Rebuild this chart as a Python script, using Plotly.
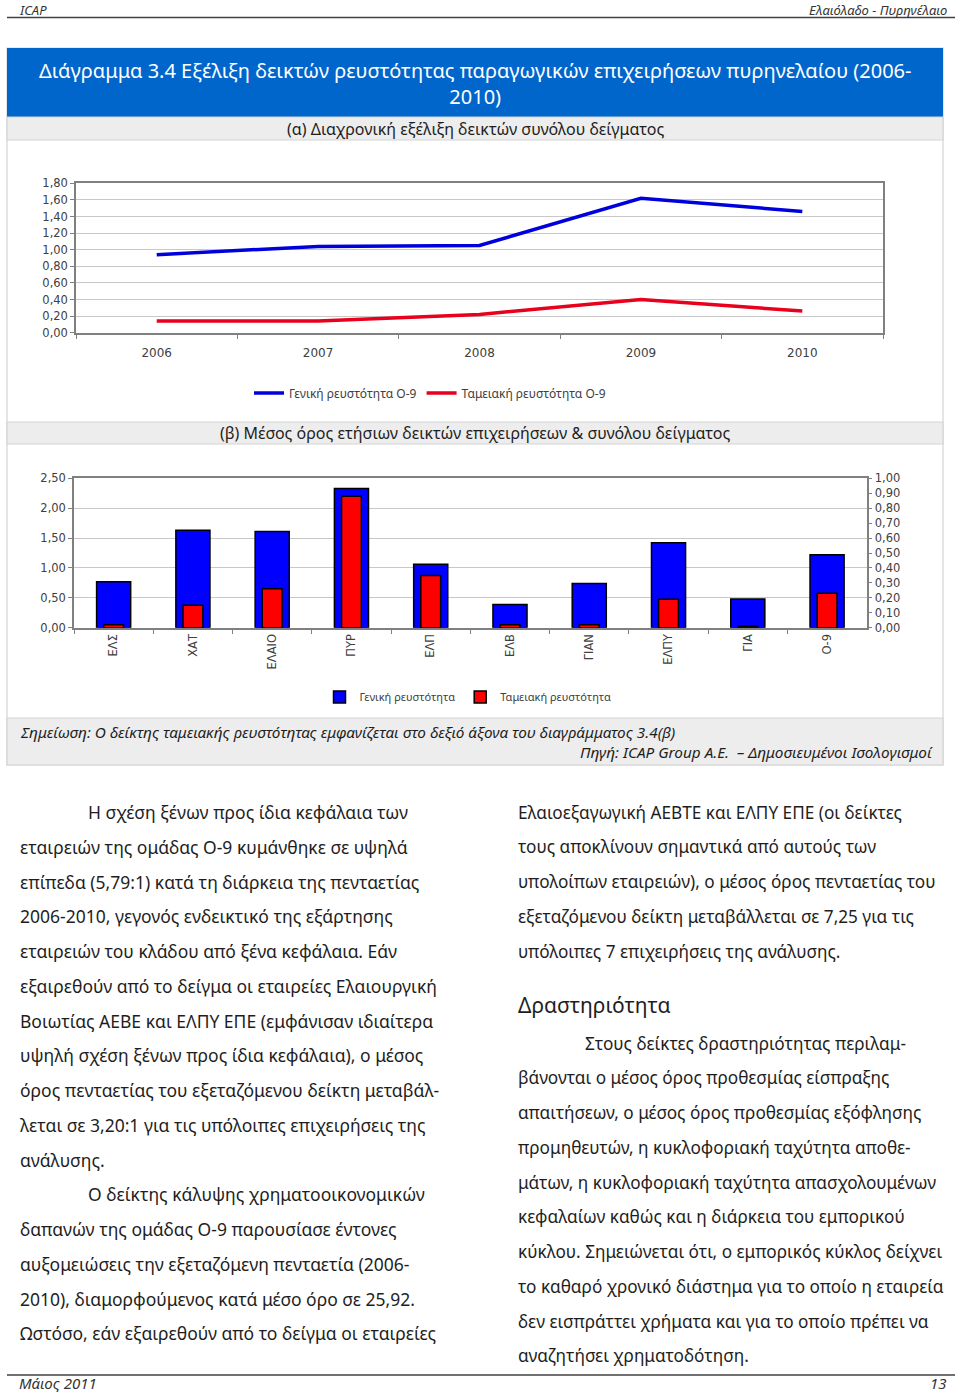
import plotly.graph_objects as go

W, H = 960, 1394


def px(x):
    return x / W


def py(y):
    return 1 - y / H


# ---------------- data ----------------
years = ["2006", "2007", "2008", "2009", "2010"]
general_o9 = [0.94, 1.04, 1.05, 1.62, 1.46]
cash_o9 = [0.14, 0.14, 0.22, 0.40, 0.26]

companies = ["ΕΛΣ", "ΧΑΤ", "ΕΛΑΙΟ", "ΠΥΡ", "ΕΛΠ", "ΕΛΒ", "ΓΙΑΝ", "ΕΛΠΥ", "ΓΙΑ", "Ο-9"]
general_avg = [0.77, 1.63, 1.61, 2.33, 1.06, 0.39, 0.74, 1.42, 0.48, 1.22]
cash_avg = [0.02, 0.15, 0.26, 0.88, 0.35, 0.02, 0.02, 0.19, 0.01, 0.23]

left_col = [
    "Η σχέση ξένων προς ίδια κεφάλαια των",
    "εταιρειών της ομάδας Ο-9 κυμάνθηκε σε υψηλά",
    "επίπεδα (5,79:1) κατά τη διάρκεια της πενταετίας",
    "2006-2010, γεγονός ενδεικτικό της εξάρτησης",
    "εταιρειών του κλάδου από ξένα κεφάλαια. Εάν",
    "εξαιρεθούν από το δείγμα οι εταιρείες Ελαιουργική",
    "Βοιωτίας ΑΕΒΕ και ΕΛΠΥ ΕΠΕ (εμφάνισαν ιδιαίτερα",
    "υψηλή σχέση ξένων προς ίδια κεφάλαια), ο μέσος",
    "όρος πενταετίας του εξεταζόμενου δείκτη μεταβάλ-",
    "λεται σε 3,20:1 για τις υπόλοιπες επιχειρήσεις της",
    "ανάλυσης.",
    "Ο δείκτης κάλυψης χρηματοοικονομικών",
    "δαπανών της ομάδας Ο-9 παρουσίασε έντονες",
    "αυξομειώσεις την εξεταζόμενη πενταετία (2006-",
    "2010), διαμορφούμενος κατά μέσο όρο σε 25,92.",
    "Ωστόσο, εάν εξαιρεθούν από το δείγμα οι εταιρείες",
]
left_indent = {0, 11}

right_col_a = [
    "Ελαιοεξαγωγική ΑΕΒΤΕ και ΕΛΠΥ ΕΠΕ (οι δείκτες",
    "τους αποκλίνουν σημαντικά από αυτούς των",
    "υπολοίπων εταιρειών), ο μέσος όρος πενταετίας του",
    "εξεταζόμενου δείκτη μεταβάλλεται σε 7,25 για τις",
    "υπόλοιπες 7 επιχειρήσεις της ανάλυσης.",
]
right_heading = "Δραστηριότητα"
right_col_b = [
    "Στους δείκτες δραστηριότητας περιλαμ-",
    "βάνονται ο μέσος όρος προθεσμίας είσπραξης",
    "απαιτήσεων, ο μέσος όρος προθεσμίας εξόφλησης",
    "προμηθευτών, η κυκλοφοριακή ταχύτητα αποθε-",
    "μάτων, η κυκλοφοριακή ταχύτητα απασχολουμένων",
    "κεφαλαίων καθώς και η διάρκεια του εμπορικού",
    "κύκλου. Σημειώνεται ότι, ο εμπορικός κύκλος δείχνει",
    "το καθαρό χρονικό διάστημα για το οποίο η εταιρεία",
    "δεν εισπράττει χρήματα και για το οποίο πρέπει να",
    "αναζητήσει χρηματοδότηση.",
]

BODY_FONT = "Noto Sans"
TICK_FONT = "DejaVu Sans"
TICK_COLOR = "#404040"
GRID = "#C8C8C8"
AXLINE = "#808080"

fig = go.Figure()

# ---- chart (a): lines ----
fig.add_trace(go.Scatter(
    x=years, y=general_o9, mode="lines", name="Γενική ρευστότητα Ο-9",
    line=dict(color="#0000DD", width=3.5), xaxis="x", yaxis="y", legend="legend"))
fig.add_trace(go.Scatter(
    x=years, y=cash_o9, mode="lines", name="Ταμειακή ρευστότητα Ο-9",
    line=dict(color="#E8001C", width=3.5), xaxis="x", yaxis="y", legend="legend"))

# ---- chart (b): bars ----
fig.add_trace(go.Bar(
    x=companies, y=general_avg, name="Γενική ρευστότητα", width=0.43,
    marker=dict(color="#0000FF", line=dict(color="#000000", width=1.5)),
    xaxis="x2", yaxis="y2", legend="legend2"))
fig.add_trace(go.Bar(
    x=companies, y=cash_avg, name="Ταμειακή ρευστότητα", width=0.25,
    marker=dict(color="#FF0000", line=dict(color="#000000", width=1.5)),
    xaxis="x2", yaxis="y3", legend="legend2"))

tickfont = dict(family=TICK_FONT, size=11.5, color=TICK_COLOR)

shapes = []
# header / footer rules
shapes.append(dict(type="line", xref="paper", yref="paper", x0=px(7), x1=px(955),
                   y0=py(17.5), y1=py(17.5), line=dict(color="#404040", width=1.5)))
shapes.append(dict(type="line", xref="paper", yref="paper", x0=px(7), x1=px(955),
                   y0=py(1375), y1=py(1375), line=dict(color="#404040", width=1.5)))
# outer box
shapes.append(dict(type="rect", xref="paper", yref="paper", x0=px(7), x1=px(943),
                   y0=py(765), y1=py(48), line=dict(color="#D4D4D4", width=1.2),
                   fillcolor="white", layer="below"))
# blue title band
shapes.append(dict(type="rect", xref="paper", yref="paper", x0=px(7), x1=px(943),
                   y0=py(117), y1=py(48), line=dict(width=0), fillcolor="#0066CC",
                   layer="below"))
# gray bands
for (a, b) in [(117, 140), (422, 444), (718, 765)]:
    shapes.append(dict(type="rect", xref="paper", yref="paper", x0=px(7), x1=px(943),
                       y0=py(b), y1=py(a), line=dict(color="#D4D4D4", width=1.2),
                       fillcolor="#EDEDED", layer="below"))

annotations = []


def text(x, y, s, size=17, color="#1E1E1E", xanchor="left", yanchor="middle",
         family=BODY_FONT, italic=False, pad=1):
    if italic:
        s = "<i>" + s + "</i>"
    annotations.append(dict(x=px(x), y=py(y), xref="paper", yref="paper", text=s,
                            showarrow=False, xanchor=xanchor, yanchor=yanchor,
                            borderpad=pad,
                            font=dict(family=family, size=size, color=color)))


# header / footer (kept fully inside the page)
text(18, 0, "ICAP", size=13, color="#333333", yanchor="top", italic=True, pad=0)
text(948, 0, "Ελαιόλαδο - Πυρηνέλαιο", size=13, color="#333333", xanchor="right",
     yanchor="top", italic=True, pad=0)
text(18, 1394, "Μάιος 2011", size=15, color="#333333", yanchor="bottom", italic=True, pad=0)
text(948, 1394, "13", size=15, color="#333333", xanchor="right", yanchor="bottom",
     italic=True, pad=0)

# titles
text(475, 83, "Διάγραμμα 3.4 Εξέλιξη δεικτών ρευστότητας παραγωγικών επιχειρήσεων πυρηνελαίου (2006-<br>2010)",
     size=20, color="white", xanchor="center")
text(475, 129, "(α) Διαχρονική εξέλιξη δεικτών συνόλου δείγματος", size=16,
     xanchor="center")
text(475, 433, "(β) Μέσος όρος ετήσιων δεικτών επιχειρήσεων & συνόλου δείγματος", size=16,
     xanchor="center")
text(18, 732, "Σημείωση: Ο δείκτης ταμειακής ρευστότητας εμφανίζεται στο δεξιό άξονα του διαγράμματος 3.4(β)",
     size=15.3, italic=True)
text(935, 752, "Πηγή: ICAP Group Α.Ε.  – Δημοσιευμένοι Ισολογισμοί", size=15.3,
     xanchor="right", italic=True)

# body text
LINE = 34.75
for i, s in enumerate(left_col):
    x = 86 if i in left_indent else 18
    text(x, 812 + i * LINE, s, size=17.5)
for i, s in enumerate(right_col_a):
    text(516, 812 + i * LINE, s, size=17.2)
text(516, 1005, right_heading, size=21)
for i, s in enumerate(right_col_b):
    x = 583 if i == 0 else 516
    text(x, 1043 + i * LINE, s, size=17.2)

fig.update_layout(
    width=W, height=H,
    margin=dict(l=0, r=0, t=0, b=0, autoexpand=False),
    paper_bgcolor="white",
    plot_bgcolor="rgba(0,0,0,0)",
    separators=",.",
    barmode="overlay",
    shapes=shapes,
    annotations=annotations,
    xaxis=dict(domain=[px(76), px(883)], anchor="y", type="category",
               range=[-0.5, 4.5], showline=True, linecolor=AXLINE, linewidth=1.5,
               mirror=True, ticks="outside", tickson="boundaries", ticklen=5,
               tickcolor=AXLINE, tickfont=dict(family=TICK_FONT, size=12, color=TICK_COLOR),
               ticklabelstandoff=8, showgrid=False, automargin=False),
    yaxis=dict(domain=[py(332.7), py(183.3)], anchor="x", range=[0, 1.8], dtick=0.2,
               tickformat=".2f", showgrid=True, gridcolor=GRID, showline=True,
               linecolor=AXLINE, linewidth=1.5, mirror=True, ticks="outside", ticklen=4,
               tickcolor=AXLINE, tickfont=tickfont, zeroline=False, automargin=False),
    xaxis2=dict(domain=[px(74), px(866.7)], anchor="y2", type="category",
                range=[-0.5, 9.5], showline=True, linecolor=AXLINE, linewidth=1.5,
                mirror=True, ticks="outside", tickson="boundaries", ticklen=5,
                tickcolor=AXLINE, tickfont=tickfont, tickangle=-90, showgrid=False,
                automargin=False),
    yaxis2=dict(domain=[py(627.7), py(478.3)], anchor="x2", range=[0, 2.5], dtick=0.5,
                tickformat=".2f", showgrid=True, gridcolor=GRID, showline=True,
                linecolor=AXLINE, linewidth=1.5, ticks="outside", ticklen=4,
                tickcolor=AXLINE, tickfont=tickfont, zeroline=False, automargin=False),
    yaxis3=dict(overlaying="y2", anchor="x2", side="right", range=[0, 1.0], dtick=0.1,
                tickformat=".2f", showgrid=False, showline=True, linecolor=AXLINE,
                linewidth=1.5, ticks="outside", ticklen=4, tickcolor=AXLINE,
                tickfont=tickfont, zeroline=False, automargin=False),
    legend=dict(orientation="h", x=px(430), xanchor="center", y=py(393), yanchor="middle",
                font=dict(family=BODY_FONT, size=12, color=TICK_COLOR),
                bgcolor="rgba(0,0,0,0)", itemwidth=30),
    legend2=dict(orientation="h", x=px(468), xanchor="center", y=py(697), yanchor="middle",
                 font=dict(family=BODY_FONT, size=11, color=TICK_COLOR),
                 bgcolor="rgba(0,0,0,0)", itemwidth=30),
)

fig.write_html("out.html", config={"displayModeBar": False},
               post_script="document.body.style.margin='0px';")
